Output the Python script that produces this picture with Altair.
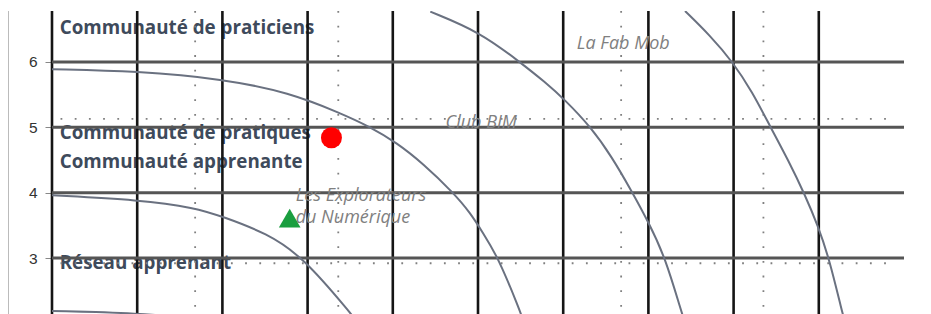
import altair as alt
import pandas as pd

# ---------------- data ----------------
y_ticks = [3, 4, 5, 6]

grid_x = [0, 1, 2, 3, 4, 5, 6, 7, 8, 9]          # black vertical lines
level_y = [3, 4, 5, 6]                           # grey horizontal lines
dotted_y = [5.13, 2.92]                          # dotted horizontal lines
dotted_x = [1.68, 3.36, 6.68, 8.35]              # dotted vertical lines

arc_a_x = [0.0, 1.0, 1.8]
arc_a_y = [2.19, 2.16, 2.06]
arc_b_x = [0.0, 1.03, 1.68, 2.01, 2.52, 2.95, 3.50, 3.56]
arc_b_y = [3.96, 3.89, 3.77, 3.63, 3.38, 3.01, 2.16, 2.06]
arc_c_x = [0.0, 1.0, 2.01, 2.79, 3.38, 3.73, 4.05, 4.35, 4.71, 4.91, 5.06, 5.24, 5.49, 5.52]
arc_c_y = [5.89, 5.86, 5.74, 5.53, 5.22, 5.01, 4.76, 4.45, 4.00, 3.69, 3.38, 3.00, 2.20, 2.08]
arc_d_x = [4.44, 5.02, 5.49, 5.79, 6.02, 6.32, 6.57, 6.80, 7.00, 7.20, 7.39, 7.42]
arc_d_y = [6.77, 6.46, 6.00, 5.69, 5.42, 5.01, 4.55, 4.03, 3.55, 3.00, 2.16, 2.06]
arc_e_x = [7.43, 7.72, 7.99, 8.22, 8.43, 8.64, 8.84, 8.99, 9.12, 9.28, 9.30]
arc_e_y = [6.78, 6.41, 6.00, 5.54, 5.01, 4.50, 3.96, 3.49, 3.00, 2.14, 2.06]

level_labels = ["Communauté de praticiens", "Communauté de pratiques",
                "Communauté apprenante", "Réseau apprenant"]
level_label_x = [0.09, 0.09, 0.09, 0.09]
level_label_y = [6.52, 4.91, 4.47, 2.92]

group_labels = ["La Fab Mob", "Club BIM", "Les Explorateurs", "du Numérique"]
group_label_x = [6.16, 4.62, 2.86, 2.86]
group_label_y = [6.28, 5.07, 3.95, 3.61]

circle_x = [3.28]
circle_y = [4.84]
triangle_x = [2.79]
triangle_y = [3.61]

# ---------------- layout ----------------
W, H = 852, 303
X_DOMAIN = [0, 10]
Y_DOMAIN = [2.143, 6.78]

xs = alt.Scale(domain=X_DOMAIN, nice=False, zero=False)
ys = alt.Scale(domain=Y_DOMAIN, nice=False, zero=False)
y_axis = alt.Axis(values=y_ticks, title=None, domain=False, grid=False,
                  labelFont="Liberation Sans", labelFontSize=15.5, labelColor="#333333",
                  tickColor="#888888", tickSize=7, labelPadding=8)


def X(f="x"):
    return alt.X(f"{f}:Q", scale=xs, axis=None)


def Y(f="y"):
    return alt.Y(f"{f}:Q", scale=ys, axis=y_axis)


# bold level labels
lvl = pd.DataFrame({"label": level_labels, "x": level_label_x, "y": level_label_y})
lvl_text = alt.Chart(lvl).mark_text(
    align="left", baseline="middle", font="Open Sans", fontWeight="bold",
    fontSize=18.8, color="#3e4a5b"
).encode(x=X(), y=Y(), text="label:N")

# vertical black lines
vdf = pd.DataFrame({"x": grid_x})
vlines = alt.Chart(vdf).mark_rule(color="#151515", strokeWidth=2.6).encode(
    x=X(), y=alt.value(0), y2=alt.value(H))

# horizontal grey lines
hdf = pd.DataFrame({"y": level_y, "x": [X_DOMAIN[0]] * len(level_y),
                    "x2": [X_DOMAIN[1]] * len(level_y)})
hlines = alt.Chart(hdf).mark_rule(color="#555555", strokeWidth=3).encode(
    y=Y(), x=X(), x2="x2:Q")

# dotted lines
dvdf = pd.DataFrame({"x": dotted_x})
dv = alt.Chart(dvdf).mark_rule(color="#808080", strokeWidth=1.8, strokeDash=[1.8, 12.9]).encode(
    x=X(), y=alt.value(0), y2=alt.value(H))
dhdf = pd.DataFrame({"y": dotted_y, "x": [0.1] * len(dotted_y), "x2": [9.9] * len(dotted_y)})
dh = alt.Chart(dhdf).mark_rule(color="#808080", strokeWidth=1.8, strokeDash=[1.8, 12.4]).encode(
    y=Y(), x=X(), x2="x2:Q")

# arcs
rows = []
for name, ax, ay in [("A", arc_a_x, arc_a_y), ("B", arc_b_x, arc_b_y),
                     ("C", arc_c_x, arc_c_y), ("D", arc_d_x, arc_d_y),
                     ("E", arc_e_x, arc_e_y)]:
    for i, (px, py) in enumerate(zip(ax, ay)):
        rows.append({"arc": name, "i": i, "x": px, "y": py})
adf = pd.DataFrame(rows)
arcs = alt.Chart(adf).mark_line(color="#6a7180", strokeWidth=2, interpolate="basis",
                                clip=True).encode(
    x=X(), y=Y(), detail="arc:N", order="i:Q")

# italic group labels
gdf = pd.DataFrame({"label": group_labels, "x": group_label_x, "y": group_label_y})
grp_text = alt.Chart(gdf).mark_text(
    align="left", baseline="middle", font="Open Sans", fontStyle="italic",
    fontSize=18, color="#808080"
).encode(x=X(), y=Y(), text="label:N")

# left frame line
frame = alt.Chart(pd.DataFrame({"k": [0]})).mark_rule(color="#bbbbbb", strokeWidth=1).encode(
    x=alt.value(-43.5), y=alt.value(0), y2=alt.value(H))

# points
cdf = pd.DataFrame({"x": circle_x, "y": circle_y})
circ = alt.Chart(cdf).mark_point(shape="circle", filled=True, size=441, color="#ff0000",
                                 opacity=1).encode(x=X(), y=Y())
tdf = pd.DataFrame({"x": triangle_x, "y": triangle_y})
tri = alt.Chart(tdf).mark_point(shape="triangle-up", filled=True, size=470, color="#1a9e3f",
                                opacity=1).encode(x=X(), y=Y())

chart = alt.layer(lvl_text, dv, dh, vlines, hlines, arcs, grp_text, frame, circ, tri).properties(
    width=W, height=H,
    autosize=alt.AutoSizeParams(type="none"),
    padding={"left": 44, "top": 3, "right": 0, "bottom": 0},
).configure_view(stroke=None)

chart.save("out.html", embed_options={"renderer": "svg", "actions": False})
